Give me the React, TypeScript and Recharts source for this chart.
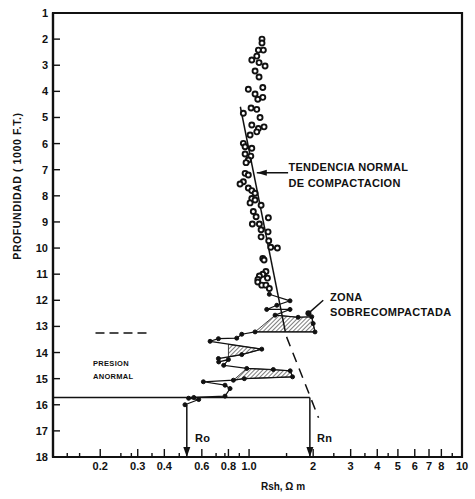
import { ScatterChart, Scatter, XAxis, YAxis, ReferenceArea, Label } from 'recharts';

// depth axis (thousands of ft) and resistivity ticks
const depthTicks = [1, 2, 3, 4, 5, 6, 7, 8, 9, 10, 11, 12, 13, 14, 15, 16, 17, 18];
const xMajorTicks = [0.2, 0.3, 0.4, 0.6, 0.8, 1, 2, 3, 4, 5, 6, 7, 8, 10];
const xTickLabels = ['0.2', '0.3', '0.4', '0.6', '0.8', '1.0', '2', '3', '4', '5', '6', '7', '8', '10'];
const xMinorTicks = [0.14, 0.16, 0.25, 0.28, 0.35, 0.47, 0.7, 0.77, 0.9, 1.5, 2.5, 3.5, 4.5, 9];

// shale resistivity readings, normal section (not joined)
const shalePoints = [
  { x: 1.15, d: 2.0 }, { x: 1.15, d: 2.15 }, { x: 1.106, d: 2.42 }, { x: 1.167, d: 2.42 },
  { x: 1.087, d: 2.65 }, { x: 1.03, d: 2.8 }, { x: 1.114, d: 2.9 }, { x: 1.189, d: 3.03 },
  { x: 1.067, d: 3.22 }, { x: 1.114, d: 3.45 }, { x: 0.992, d: 3.92 }, { x: 1.16, d: 3.85 },
  { x: 1.067, d: 4.1 }, { x: 1.099, d: 4.3 }, { x: 1.16, d: 4.23 }, { x: 1.022, d: 4.64 },
  { x: 1.087, d: 4.69 }, { x: 0.94, d: 4.84 }, { x: 1.126, d: 5.0 }, { x: 1.03, d: 5.29 },
  { x: 1.106, d: 5.42 }, { x: 1.176, d: 5.36 }, { x: 1.011, d: 5.67 }, { x: 1.087, d: 5.55 },
  { x: 0.94, d: 5.99 }, { x: 0.958, d: 6.12 }, { x: 1.03, d: 6.18 }, { x: 0.958, d: 6.4 },
  { x: 1.019, d: 6.48 }, { x: 0.992, d: 6.63 }, { x: 0.968, d: 6.73 }, { x: 0.958, d: 7.14 },
  { x: 0.992, d: 7.2 }, { x: 0.94, d: 7.46 }, { x: 0.907, d: 7.55 }, { x: 0.992, d: 7.7 },
  { x: 1.03, d: 7.8 }, { x: 1.067, d: 7.9 }, { x: 1.03, d: 8.1 }, { x: 1.011, d: 8.27 },
  { x: 1.067, d: 8.16 }, { x: 1.139, d: 8.36 }, { x: 1.047, d: 8.6 }, { x: 1.079, d: 8.8 },
  { x: 1.232, d: 8.84 }, { x: 1.036, d: 9.08 }, { x: 1.118, d: 9.08 }, { x: 1.139, d: 9.3 },
  { x: 1.228, d: 9.38 }, { x: 1.139, d: 9.57 }, { x: 1.237, d: 9.72 }, { x: 1.264, d: 9.97 },
  { x: 1.358, d: 10.0 }, { x: 1.16, d: 10.4 }, { x: 1.176, d: 10.46 }, { x: 1.2, d: 10.9 },
  { x: 1.16, d: 11.0 }, { x: 1.118, d: 11.07 }, { x: 1.1, d: 11.2 }, { x: 1.22, d: 11.15 },
  { x: 1.099, d: 11.3 }, { x: 1.147, d: 11.42 }, { x: 1.2, d: 11.42 }, { x: 1.245, d: 11.55 },
];

// overpressured section, readings joined in depth order
const zigzag = [
  { x: 1.245, d: 11.77 }, { x: 1.557, d: 12.02 }, { x: 1.35, d: 12.19 }, { x: 1.21, d: 12.35 },
  { x: 1.557, d: 12.35 }, { x: 1.325, d: 12.57 }, { x: 1.7, d: 12.65 }, { x: 1.97, d: 12.63 },
  { x: 2.0, d: 12.89 }, { x: 2.04, d: 13.21 }, { x: 1.067, d: 13.21 }, { x: 0.924, d: 13.3 },
  { x: 0.875, d: 13.45 }, { x: 0.718, d: 13.47 }, { x: 0.656, d: 13.57 }, { x: 1.147, d: 13.87 },
  { x: 0.924, d: 14.08 }, { x: 0.718, d: 14.23 }, { x: 0.72, d: 14.36 }, { x: 0.8, d: 14.27 },
  { x: 0.76, d: 14.49 }, { x: 0.975, d: 14.61 }, { x: 1.3, d: 14.65 }, { x: 1.56, d: 14.7 },
  { x: 1.6, d: 14.93 }, { x: 0.95, d: 15.0 }, { x: 0.844, d: 15.06 }, { x: 0.61, d: 15.12 },
  { x: 0.771, d: 15.25 }, { x: 0.814, d: 15.38 }, { x: 0.771, d: 15.67 }, { x: 0.55, d: 15.72 },
  { x: 0.52, d: 15.75 }, { x: 0.58, d: 15.8 }, { x: 0.5, d: 16.0 },
];

// hatched (overcompacted) zones
const hatchA = [
  { x: 1.325, d: 12.57 }, { x: 1.7, d: 12.65 }, { x: 1.97, d: 12.63 },
  { x: 2.0, d: 12.89 }, { x: 2.04, d: 13.21 }, { x: 1.067, d: 13.21 },
];
const hatchB = [{ x: 0.8, d: 13.69 }, { x: 1.147, d: 13.87 }, { x: 0.924, d: 14.08 }, { x: 0.8, d: 14.165 }];
const hatchC = [{ x: 0.975, d: 14.61 }, { x: 1.56, d: 14.7 }, { x: 1.6, d: 14.93 }, { x: 0.95, d: 15.0 }, { x: 0.844, d: 15.06 }];

// normal compaction trend
const trendSolid = [{ x: 0.91, d: 4.59 }, { x: 1.48, d: 13.2 }];
const trendDashed = [{ x: 1.5, d: 13.4 }, { x: 2.12, d: 16.5 }];

const readLine = [{ x: 0.12, d: 15.72 }, { x: 1.93, d: 15.72 }];
const leftDash = [{ x: 0.19, d: 13.25 }, { x: 0.335, d: 13.25 }];
const roArrow = [{ x: 0.51, d: 16.0 }, { x: 0.51, d: 18, head: 'down' }];
const rnArrow = [{ x: 1.93, d: 15.72 }, { x: 1.93, d: 18, head: 'down' }];
const trendArrow = [{ x: 1.525, d: 7.12 }, { x: 1.087, d: 7.12, head: 'left' }];
const zonaArrow = [{ x: 2.23, d: 12.0 }, { x: 1.9, d: 12.5, head: 'dot' }];

const bigNotes = [
  { x: 1.53, d: 6.89, text: 'TENDENCIA NORMAL' },
  { x: 1.53, d: 7.52, text: 'DE COMPACTACION' },
  { x: 2.4, d: 11.88, text: 'ZONA' },
  { x: 2.4, d: 12.44, text: 'SOBRECOMPACTADA' },
  { x: 0.557, d: 17.28, text: 'Ro' },
  { x: 2.085, d: 17.28, text: 'Rn' },
];
const smallNotes = [
  { x: 0.185, d: 14.41, text: 'PRESION' },
  { x: 0.185, d: 14.93, text: 'ANORMAL' },
];

const INK = '#111';
const FONT = '"Liberation Sans", Arial, sans-serif';

const xTicks = [...xMinorTicks, ...xMajorTicks].sort((a, b) => a - b);

const XTick = ({ x, y, payload }: any) => {
  const i = xMajorTicks.indexOf(payload.value);
  const major = i >= 0;
  return (
    <g>
      <line x1={x} x2={x} y1={y} y2={y - (major ? 8 : 4)} stroke={INK} strokeWidth={1.4} />
      {major && (
        <text x={x} y={y + 9} textAnchor="middle" dominantBaseline="central" fontSize={11} fontWeight="bold" fontFamily={FONT} fill={INK}>
          {xTickLabels[i]}
        </text>
      )}
    </g>
  );
};

const YTick = ({ x, y, payload }: any) => (
  <g>
    {payload.value > 1 && payload.value < 18 && (
      <line x1={x} x2={x + 7} y1={y} y2={y} stroke={INK} strokeWidth={1.4} />
    )}
    <text x={x - 5} y={y} textAnchor="end" dominantBaseline="central" fontSize={11} fontWeight="bold" fontFamily={FONT} fill={INK}>
      {payload.value}
    </text>
  </g>
);

const ring = ({ cx, cy }: any) => <circle cx={cx} cy={cy} r={2.5} fill="#fff" stroke={INK} strokeWidth={1.9} />;
const dot = ({ cx, cy }: any) => <circle cx={cx} cy={cy} r={2} fill={INK} stroke={INK} strokeWidth={1} />;
const nothing = () => <g />;

const head = ({ cx, cy, payload }: any) => {
  if (payload.head === 'down') return <polygon points={`${cx - 3.5},${cy - 10} ${cx + 3.5},${cy - 10} ${cx},${cy}`} fill={INK} />;
  if (payload.head === 'left') return <polygon points={`${cx},${cy} ${cx + 10},${cy - 3} ${cx + 10},${cy + 3}`} fill={INK} />;
  if (payload.head === 'dot') return <circle cx={cx} cy={cy} r={3} fill={INK} />;
  return <g />;
};

const noteShape = (size: number) => ({ cx, cy, payload }: any) => (
  <text x={cx} y={cy} dominantBaseline="central" fontSize={size} fontWeight="bold" fontFamily={FONT} fill={INK} letterSpacing={0.3}>
    {payload.text}
  </text>
);

const hatchPath = (p: any) => {
  const pts = p.points || [];
  const d = pts.map((q: any, i: number) => `${i ? 'L' : 'M'}${q.x},${q.y}`).join(' ') + ' Z';
  return (
    <g>
      <defs>
        <pattern id="hatch" patternUnits="userSpaceOnUse" width={3} height={3} patternTransform="rotate(45)">
          <line x1={0} y1={0} x2={0} y2={3} stroke={INK} strokeWidth={1.1} />
        </pattern>
      </defs>
      <path d={d} fill="url(#hatch)" stroke={INK} strokeWidth={0.8} />
    </g>
  );
};

const solid = { stroke: INK, strokeWidth: 1.5 };

export default function App() {
  return (
    <div style={{ position: 'absolute', left: 0, top: 0, background: '#fff' }}>
      <ScatterChart width={475} height={499} margin={{ top: 13, right: 13, bottom: 12, left: 13 }}>
        <XAxis
          type="number"
          dataKey="x"
          scale="log"
          domain={[0.12, 10]}
          allowDataOverflow
          ticks={xTicks}
          interval={0}
          tickSize={0}
          tickMargin={0}
          tickLine={false}
          tick={<XTick />}
          height={30}
          axisLine={{ stroke: INK, strokeWidth: 2.2 }}
        >
          <Label
            content={({ viewBox }: any) => (
              <text x={viewBox.x + 230} y={viewBox.y + 29} textAnchor="middle" dominantBaseline="central" fontSize={10} fontWeight="bold" fontFamily={FONT} fill={INK}>
                Rsh, Ω m
              </text>
            )}
          />
        </XAxis>
        <YAxis
          type="number"
          dataKey="d"
          domain={[1, 18]}
          reversed
          allowDataOverflow
          ticks={depthTicks}
          interval={0}
          tickSize={0}
          tickMargin={0}
          tickLine={false}
          tick={<YTick />}
          width={40}
          axisLine={{ stroke: INK, strokeWidth: 2.2 }}
        >
          <Label
            content={({ viewBox }: any) => (
              <text
                transform={`translate(${viewBox.x + 4}, ${viewBox.y + 173}) rotate(-90)`}
                textAnchor="middle"
                dominantBaseline="central"
                fontSize={10.5}
                fontWeight="bold"
                fontFamily={FONT}
                fill={INK}
                letterSpacing={0.6}
              >
                PROFUNDIDAD ( 1000 F.T.)
              </text>
            )}
          />
        </YAxis>
        <ReferenceArea x1={0.12} x2={10} y1={1} y2={18} fill="none" stroke={INK} strokeWidth={2.2} fillOpacity={0} />

        <Scatter data={hatchA} shape={nothing} line={hatchPath} isAnimationActive={false} />
        <Scatter data={hatchB} shape={nothing} line={hatchPath} isAnimationActive={false} />
        <Scatter data={hatchC} shape={nothing} line={hatchPath} isAnimationActive={false} />

        <Scatter data={trendSolid} shape={nothing} line={solid} isAnimationActive={false} />
        <Scatter data={trendDashed} shape={nothing} line={{ stroke: INK, strokeWidth: 1.5, strokeDasharray: '10 7' }} isAnimationActive={false} />
        <Scatter data={leftDash} shape={nothing} line={{ stroke: INK, strokeWidth: 1.5, strokeDasharray: '9 5' }} isAnimationActive={false} />
        <Scatter data={readLine} shape={nothing} line={solid} isAnimationActive={false} />

        <Scatter data={roArrow} shape={head} line={solid} isAnimationActive={false} />
        <Scatter data={rnArrow} shape={head} line={solid} isAnimationActive={false} />
        <Scatter data={trendArrow} shape={head} line={solid} isAnimationActive={false} />
        <Scatter data={zonaArrow} shape={head} line={solid} isAnimationActive={false} />

        <Scatter data={zigzag} shape={dot} line={{ stroke: INK, strokeWidth: 1.2 }} isAnimationActive={false} />
        <Scatter data={shalePoints} shape={ring} isAnimationActive={false} />

        <Scatter data={bigNotes} shape={noteShape(11)} isAnimationActive={false} />
        <Scatter data={smallNotes} shape={noteShape(7.5)} isAnimationActive={false} />
      </ScatterChart>
    </div>
  );
}
